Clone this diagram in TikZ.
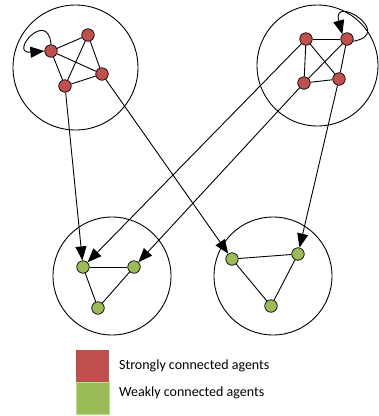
\documentclass[tikz,border=0pt]{standalone}
\usepackage{fontspec}
\setmainfont{Carlito}
\usetikzlibrary{arrows.meta}
\definecolor{agred}{HTML}{C0504D}
\definecolor{aggreen}{HTML}{9BBB59}
\definecolor{agbord}{HTML}{B5E08A}
\tikzset{
  grp/.style={draw=black, line width=0.9pt},
  sag/.style={circle, draw=black, line width=0.7pt, fill=agred, minimum size=12.5pt, inner sep=0pt},
  wag/.style={circle, draw=black, line width=0.7pt, fill=aggreen, minimum size=12.5pt, inner sep=0pt},
  lnk/.style={draw=black, line width=0.9pt},
  arr/.style={draw=black, line width=0.9pt, -{Triangle[length=14pt,width=11pt]}},
  legtxt/.style={anchor=base west, inner sep=0pt, font=\fontsize{14}{16}\selectfont}
}
\begin{document}
\begin{tikzpicture}[x=1pt,y=1pt]
\useasboundingbox (0,0) rectangle (379,-416);
% group circles
\draw[grp] (75.5,-67.5) circle (62.5);
\draw[grp] (317.5,-65.5) circle (60.5);
\draw[grp] (112,-276) circle (59);
\draw[grp] (273,-276) circle (59);
% strongly connected agents
\node[sag] (A) at (51,-51) {};
\node[sag] (B) at (88,-35) {};
\node[sag] (C) at (102,-74) {};
\node[sag] (D) at (65,-86) {};
\node[sag] (E) at (306,-39) {};
\node[sag] (F) at (347,-39) {};
\node[sag] (G) at (304,-83) {};
\node[sag] (H) at (339,-79) {};
% weakly connected agents
\node[wag] (I) at (83,-267) {};
\node[wag] (J) at (134,-267) {};
\node[wag] (K) at (98,-308) {};
\node[wag] (L) at (232,-259) {};
\node[wag] (M) at (298,-254) {};
\node[wag] (N) at (271,-306) {};
% edges inside groups
\draw[lnk] (A) -- (B);
\draw[lnk] (A) -- (C);
\draw[lnk] (A) -- (D);
\draw[lnk] (B) -- (C);
\draw[lnk] (B) -- (D);
\draw[lnk] (D) -- (C);
\draw[lnk] (E) -- (F);
\draw[lnk] (E) -- (G);
\draw[lnk] (E) -- (H);
\draw[lnk] (F) -- (G);
\draw[lnk] (F) -- (H);
\draw[lnk] (G) -- (H);
\draw[lnk] (I) -- (J);
\draw[lnk] (I) -- (K);
\draw[lnk] (J) -- (K);
\draw[lnk] (L) -- (M);
\draw[lnk] (L) -- (N);
\draw[lnk] (M) -- (N);
% self loops
\draw[arr] (A.north) to[out=95,in=185,looseness=10] (A.west);
\draw[arr] (F.-20) to[out=10,in=105,looseness=8.5] (F.north west);
% links between groups
\draw[arr] (D) -- (I);
\draw[arr] (C) -- (L);
\draw[arr] (E) -- (I);
\draw[arr] (G) -- (J);
\draw[arr] (H) -- (M);
% legend
\node[fill=agred, minimum width=33pt, minimum height=32pt, inner sep=0pt, anchor=north west] (lr) at (76,-350) {};
\node[fill=aggreen, draw=agbord, line width=0.6pt, minimum width=33pt, minimum height=32pt, inner sep=0pt, anchor=north west] (lg) at (76,-382) {};
\node[legtxt] (ls) at (119,-369) {Strongly connected agents};
\node[legtxt] (lw) at (119,-396) {Weakly connected agents};
\end{tikzpicture}
\end{document}
